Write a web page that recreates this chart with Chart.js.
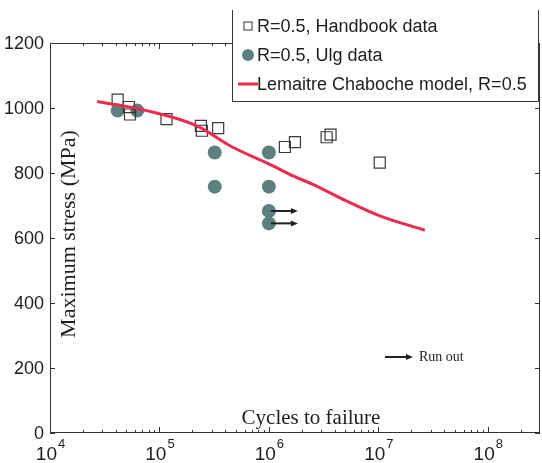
<!DOCTYPE html>
<html>
<head>
<meta charset="utf-8">
<script src="https://cdn.jsdelivr.net/npm/chart.js@4.4.1/dist/chart.umd.min.js"></script>
<style>
  html, body { margin: 0; padding: 0; background: #fff; }
  #wrap { width: 542px; height: 463px; }
</style>
</head>
<body>
<div id="wrap"><canvas id="chart" width="542" height="463"></canvas></div>
<script>
// Handbook data, R=0.5 (open squares)
const handbookCycles = [4.15e4, 5.26e4, 5.38e4, 1.16e5, 2.39e5, 2.44e5, 3.44e5, 1.4e6, 1.73e6, 3.37e6, 3.66e6, 1.03e7];
const handbookStress = [1026, 1003, 980, 966, 945, 930, 938, 880, 895, 910, 918, 832];

// Ulg data, R=0.5 (filled circles), the last two are run outs
const ulgCycles = [4.15e4, 6.27e4, 3.2e5, 3.2e5, 1e6, 1e6, 1e6, 1e6];
const ulgStress = [992, 992, 863, 758, 863, 758, 683, 645];
const ulgRunout = [false, false, false, false, false, false, true, true];

// Lemaitre Chaboche model curve
const modelCycles = [2.7e4, 7.6e4, 2.2e5, 4.4e5, 1.09e6, 1.66e6, 2.52e6, 5.1e6, 1.03e7, 2.66e7];
const modelStress = [1020, 992, 945, 884, 822, 791, 765, 714, 668, 624];

// Axes
const xTickExps = [4, 5, 6, 7, 8];
const yTicks = [0, 200, 400, 600, 800, 1000, 1200];
const legendLabels = ["R=0.5, Handbook data", "R=0.5, Ulg data", "Lemaitre Chaboche model, R=0.5"];

const SANS = '"Liberation Sans", Arial, sans-serif';
const SERIF = '"Liberation Serif", "Times New Roman", serif';
const TEAL = "#5b807d";
const RED = "#ec2b4e";
const INK = "#1e1e1e";

function toPoints(xs, ys) {
  return xs.map((x, i) => ({ x: x, y: ys[i] }));
}

function drawArrow(ctx, x1, y, x2) {
  ctx.beginPath();
  ctx.moveTo(x1, y);
  ctx.lineTo(x2 - 5, y);
  ctx.stroke();
  ctx.beginPath();
  ctx.moveTo(x2, y);
  ctx.lineTo(x2 - 7, y - 3);
  ctx.lineTo(x2 - 7, y + 3);
  ctx.closePath();
  ctx.fill();
}

// Frame, ticks, labels, legend and run-out arrows
const framePlugin = {
  id: "frame",
  afterDatasetsDraw(chart) {
    const ctx = chart.ctx;
    const xs = chart.scales.x, ys = chart.scales.y;
    ctx.save();
    ctx.strokeStyle = "#222";
    ctx.fillStyle = "#222";
    ctx.lineWidth = 2;
    ulgCycles.forEach((c, i) => {
      if (!ulgRunout[i]) return;
      const px = xs.getPixelForValue(c);
      const py = ys.getPixelForValue(ulgStress[i]);
      drawArrow(ctx, px + 2, py, px + 29);
    });
    ctx.restore();
  },
  afterDraw(chart) {
    const ctx = chart.ctx;
    const a = chart.chartArea;
    const xs = chart.scales.x, ys = chart.scales.y;
    ctx.save();

    // box
    ctx.strokeStyle = "#333";
    ctx.lineWidth = 1;
    ctx.strokeRect(a.left + 0.5, a.top + 0.5, a.right - a.left - 1, a.bottom - a.top - 1);

    // x ticks (log, major and minor), bottom and top
    xTickExps.forEach(e => {
      for (let m = 1; m <= 9; m++) {
        const v = m * Math.pow(10, e);
        const px = Math.round(xs.getPixelForValue(v)) + 0.5;
        if (px > a.right) continue;
        const len = m === 1 ? 6 : 3;
        ctx.beginPath();
        ctx.moveTo(px, a.bottom);
        ctx.lineTo(px, a.bottom - len);
        ctx.moveTo(px, a.top);
        ctx.lineTo(px, a.top + len);
        ctx.stroke();
      }
    });

    // y ticks, left and right
    yTicks.forEach(v => {
      const py = Math.round(ys.getPixelForValue(v)) + 0.5;
      ctx.beginPath();
      ctx.moveTo(a.left, py);
      ctx.lineTo(a.left + 5, py);
      ctx.moveTo(a.right, py);
      ctx.lineTo(a.right - 5, py);
      ctx.stroke();
    });

    // y tick labels
    ctx.fillStyle = INK;
    ctx.font = "18px " + SANS;
    ctx.textAlign = "right";
    ctx.textBaseline = "middle";
    yTicks.forEach(v => {
      ctx.fillText(String(v), a.left - 6, ys.getPixelForValue(v) + 1);
    });

    // x tick labels 10^n
    ctx.textAlign = "left";
    ctx.textBaseline = "alphabetic";
    xTickExps.forEach(e => {
      const px = xs.getPixelForValue(Math.pow(10, e));
      ctx.font = "19px " + SANS;
      const wb = ctx.measureText("10").width;
      ctx.font = "13px " + SANS;
      const we = ctx.measureText(String(e)).width;
      const x0 = px - (wb + we) / 2;
      ctx.font = "19px " + SANS;
      ctx.fillText("10", x0, 460);
      ctx.font = "13px " + SANS;
      ctx.fillText(String(e), x0 + wb + 1, 448);
    });

    // axis titles (inside the plot)
    ctx.font = "21px " + SERIF;
    ctx.textAlign = "center";
    ctx.fillText("Cycles to failure", 311, 424);
    ctx.save();
    ctx.translate(75, 234);
    ctx.rotate(-Math.PI / 2);
    ctx.font = "22px " + SERIF;
    ctx.textBaseline = "alphabetic";
    ctx.fillText("Maximum stress (MPa)", 0, 0);
    ctx.restore();

    // run out note
    ctx.strokeStyle = "#222";
    ctx.fillStyle = "#222";
    ctx.lineWidth = 2;
    drawArrow(ctx, 385, 357, 413);
    ctx.fillStyle = INK;
    ctx.font = "14px " + SERIF;
    ctx.textAlign = "left";
    ctx.fillText("Run out", 419, 361);

    // legend
    const lx = 232.5, lr = 538.5, lt = 10, lb = 101.5;
    ctx.fillStyle = "#fff";
    ctx.fillRect(lx, lt, lr - lx, lb - lt);
    ctx.strokeStyle = "#333";
    ctx.lineWidth = 1;
    ctx.beginPath();
    ctx.moveTo(lx, lt);
    ctx.lineTo(lx, lb);
    ctx.lineTo(lr, lb);
    ctx.lineTo(lr, lt);
    ctx.stroke();

    const rows = [26, 55, 84];
    const mx = 248;
    ctx.strokeStyle = "#333";
    ctx.strokeRect(mx - 4, rows[0] - 4, 8, 8);
    ctx.fillStyle = TEAL;
    ctx.beginPath();
    ctx.arc(mx, rows[1], 6, 0, Math.PI * 2);
    ctx.fill();
    ctx.strokeStyle = RED;
    ctx.lineWidth = 3;
    ctx.beginPath();
    ctx.moveTo(238, rows[2]);
    ctx.lineTo(258, rows[2]);
    ctx.stroke();

    ctx.fillStyle = INK;
    ctx.font = "18px " + SANS;
    ctx.textAlign = "left";
    ctx.textBaseline = "middle";
    legendLabels.forEach((t, i) => ctx.fillText(t, 257, rows[i] + 1));

    ctx.restore();
  }
};

new Chart(document.getElementById("chart"), {
  type: "scatter",
  data: {
    datasets: [
      {
        label: legendLabels[2],
        data: toPoints(modelCycles, modelStress),
        showLine: true,
        borderColor: RED,
        borderWidth: 3,
        pointRadius: 0,
        cubicInterpolationMode: "monotone",
        order: 0
      },
      {
        label: legendLabels[0],
        data: toPoints(handbookCycles, handbookStress),
        pointStyle: "rect",
        pointRadius: 7.8,
        backgroundColor: "rgba(255,255,255,0)",
        borderColor: "#3a3a3a",
        borderWidth: 1.2,
        order: 1
      },
      {
        label: legendLabels[1],
        data: toPoints(ulgCycles, ulgStress),
        pointStyle: "circle",
        pointRadius: 7,
        backgroundColor: TEAL,
        borderColor: TEAL,
        borderWidth: 0,
        order: 2
      }
    ]
  },
  options: {
    responsive: false,
    devicePixelRatio: 1,
    animation: false,
    layout: { autoPadding: false, padding: { left: 50, right: 2, top: 43, bottom: 30 } },
    plugins: { legend: { display: false }, tooltip: { enabled: false } },
    scales: {
      x: { type: "logarithmic", min: 1e4, max: 3e8, display: false },
      y: { type: "linear", min: 0, max: 1200, display: false }
    }
  },
  plugins: [framePlugin]
});
</script>
</body>
</html>
